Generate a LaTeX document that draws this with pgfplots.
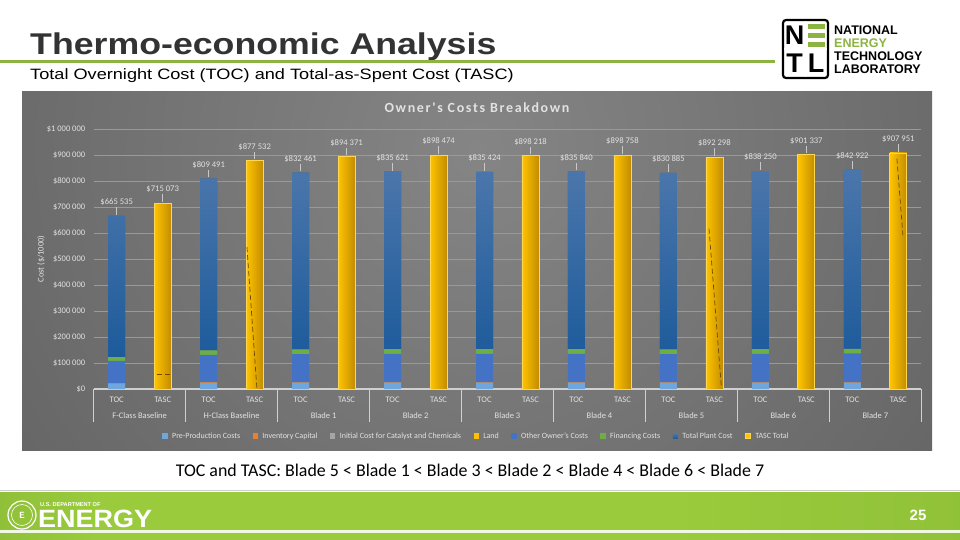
\documentclass[border=0pt]{standalone}
\usepackage{pgfplots}
\pgfplotsset{compat=1.18}
\usepackage{pgfplotstable}
\usepackage{fontspec}
\setmainfont{Carlito}
\newfontfamily\arialfont{Liberation Sans}
\newfontfamily\spacedfont[LetterSpace=12]{Carlito}

% slide and chart colours
\definecolor{bgin}{HTML}{858585}
\definecolor{bgout}{HTML}{535353}
\definecolor{txt}{HTML}{E2E2E2}
\definecolor{gridc}{HTML}{999999}
\definecolor{axc}{HTML}{D0D0D0}
\definecolor{leader}{HTML}{C8C8C8}
\definecolor{preprod}{HTML}{6EA6DE}
\definecolor{invcap}{HTML}{ED7D31}
\definecolor{catal}{HTML}{A5A5A5}
\definecolor{land}{HTML}{FFC000}
\definecolor{otheroc}{HTML}{4472C4}
\definecolor{finance}{HTML}{70AD47}
\definecolor{tpctop}{HTML}{4B76AB}
\definecolor{tpcbot}{HTML}{1D5B9B}
\definecolor{tascL}{HTML}{FFC400}
\definecolor{tascR}{HTML}{C28C00}
\definecolor{tascB}{HTML}{FFD650}
\definecolor{dashc}{HTML}{6B4A00}
\definecolor{netlgreen}{HTML}{8DB443}
\definecolor{titlegray}{HTML}{333333}
\definecolor{footA}{HTML}{5A8A28}
\definecolor{footB}{HTML}{9ACB3C}
\definecolor{footC}{HTML}{80B232}

\pgfdeclarehorizontalshading{footer}{100bp}{
  color(0bp)=(footA); color(30bp)=(footB); color(60bp)=(footB); color(100bp)=(footC)}

% Total Overnight Cost components ($/1000), one row per case (even slots)
\pgfplotstableread{
x  pre   inv  cat land other  fin   tpc    toc    lab
0  20000 1500 0   900  85453  14662 543020 665535 {665 535}
2  24000 1500 0   900  104424 17842 660825 809491 {809 491}
4  24500 1500 0   900  107462 18353 679746 832461 {832 461}
6  24500 1500 0   900  107865 18426 682430 835621 {835 621}
8  24500 1500 0   900  107840 18421 682263 835424 {835 424}
10 24500 1500 0   900  107893 18431 682616 835840 {835 840}
12 24500 1500 0   900  107261 18317 678407 830885 {830 885}
14 24500 1500 0   900  108200 18486 684664 838250 {838 250}
16 24500 1500 0   900  108795 18593 688634 842922 {842 922}
}\toctable

% Total-as-Spent Cost ($/1000), odd slots
\pgfplotstableread{
x  tasc   lab
1  715073 {715 073}
3  877532 {877 532}
5  894371 {894 371}
7  898474 {898 474}
9  898218 {898 218}
11 898758 {898 758}
13 892298 {892 298}
15 901337 {901 337}
17 907951 {907 951}
}\tasctable

\pgfplotsset{
  chartframe/.style={
    at={(93.7pt,-389pt)}, anchor=south west,
    scale only axis, width=827.6pt, height=260pt,
    xmin=-0.5, xmax=17.5, ymin=0, ymax=1000000,
    clip=false,
  },
  datalabels/.style={
    point meta=explicit symbolic,
    nodes near coords={\$\pgfplotspointmeta\\{\color{leader}\rule{0.5pt}{7.5pt}}},
    every node near coord/.append style={font=\fontsize{8.6}{10}\selectfont,
      text=txt, align=center, anchor=south, inner sep=0pt, yshift=1pt},
  },
  sq legend/.style={legend image code/.code={
    \fill[##1] (0pt,-2.6pt) rectangle (5.2pt,2.6pt);}},
}

\begin{document}
\begin{tikzpicture}
\useasboundingbox (0,0) rectangle (960pt,-540pt);
\fill[white] (0,0) rectangle (960pt,-540pt);

% ---- slide header ----
\node[anchor=base west, inner sep=0, text=titlegray,
  font=\arialfont\bfseries\fontsize{30}{32}\selectfont] at (30pt,-55pt)
  {\scalebox{1.19}[1]{Thermo-economic Analysis}};
\fill[netlgreen] (0pt,-60.5pt) rectangle (775pt,-63.5pt);
\node[anchor=base west, inner sep=0, text=black,
  font=\arialfont\fontsize{15}{17}\selectfont] at (30pt,-80pt)
  {\scalebox{1.21}[1]{Total Overnight Cost (TOC) and Total-as-Spent Cost (TASC)}};

% NETL logo
\draw[black, line width=2.2pt, rounded corners=3pt] (783pt,-20pt) rectangle (828pt,-78pt);
\draw[white, line width=1.5pt] (805.5pt,-21pt) -- (805.5pt,-77pt) (784pt,-49pt) -- (827pt,-49pt);
\node[inner sep=0, font=\arialfont\bfseries\fontsize{27}{27}\selectfont] at (794.5pt,-35.5pt) {N};
\fill[netlgreen] (808pt,-24pt) rectangle (825pt,-29pt);
\fill[netlgreen] (808pt,-33pt) rectangle (825pt,-38pt);
\fill[netlgreen] (808pt,-42pt) rectangle (825pt,-47pt);
\node[inner sep=0, font=\arialfont\bfseries\fontsize{27}{27}\selectfont] at (794.5pt,-63.5pt) {T};
\node[inner sep=0, font=\arialfont\bfseries\fontsize{27}{27}\selectfont] at (816pt,-63.5pt) {L};
\begin{scope}[every node/.style={anchor=base west, inner sep=0,
    font=\arialfont\bfseries\fontsize{12.5}{13}\selectfont}]
  \node at (834pt,-35pt) {NATIONAL};
  \node[text=netlgreen] at (834pt,-48pt) {ENERGY};
  \node at (834pt,-61pt) {TECHNOLOGY};
  \node at (834pt,-74pt) {LABORATORY};
\end{scope}

% ---- chart area ----
\begin{scope}
  \clip (22pt,-92pt) rectangle (932pt,-450pt);
  \shade[inner color=bgin, outer color=bgout] (477pt,-150pt) circle (900pt);
\end{scope}
\node[text=txt, inner sep=0, font=\spacedfont\bfseries\fontsize{14}{16}\selectfont]
  at (477pt,-108pt) {Owner's Costs Breakdown};
\node[text=txt, rotate=90, inner sep=0, font=\fontsize{8.5}{10}\selectfont]
  at (41pt,-259pt) {Cost (\$/1000)};

% stacked Total Overnight Cost bars
\begin{axis}[chartframe,
  ybar stacked, bar width=0.37,
  axis line style={draw=none},
  major tick length=0pt,
  scaled y ticks=false,
  ymajorgrids, grid style={gridc, line width=0.6pt},
  ytick={0,100000,200000,300000,400000,500000,600000,700000,800000,900000,1000000},
  yticklabels={\$0,\$100 000,\$200 000,\$300 000,\$400 000,\$500 000,\$600 000,\$700 000,\$800 000,\$900 000,\$1 000 000},
  xtick={0,1,2,3,4,5,6,7,8,9,10,11,12,13,14,15,16,17},
  xticklabels={TOC,TASC,TOC,TASC,TOC,TASC,TOC,TASC,TOC,TASC,TOC,TASC,TOC,TASC,TOC,TASC,TOC,TASC},
  tick label style={font=\fontsize{8.5}{10}\selectfont, text=txt},
  yticklabel style={anchor=east, xshift=-5pt},
  xticklabel style={anchor=center, yshift=-11pt},
  sq legend,
  legend columns=-1,
  legend style={at={(0.4626,-0.1808)}, anchor=center, draw=none, fill=none,
    font=\fontsize{8}{9}\selectfont, text=txt,
    /tikz/every odd column/.append style={column sep=2.5pt},
    /tikz/every even column/.append style={column sep=10.5pt}},
]
\addplot[fill=preprod, draw=none] table[x=x, y=pre] {\toctable};
\addlegendentry{Pre-Production Costs}
\addplot[fill=invcap, draw=none] table[x=x, y=inv] {\toctable};
\addlegendentry{Inventory Capital}
\addplot[fill=catal, draw=none] table[x=x, y=cat] {\toctable};
\addlegendentry{Initial Cost for Catalyst and Chemicals}
\addplot[fill=land, draw=none] table[x=x, y=land] {\toctable};
\addlegendentry{Land}
\addplot[fill=otheroc, draw=none] table[x=x, y=other] {\toctable};
\addlegendentry{Other Owner's Costs}
\addplot[fill=finance, draw=none] table[x=x, y=fin] {\toctable};
\addlegendentry{Financing Costs}
\addplot[fill=tpcbot, draw=none, top color=tpctop, bottom color=tpcbot]
  table[x=x, y=tpc] {\toctable};
\addlegendentry{Total Plant Cost}
\addlegendimage{fill=tascL, draw=tascB, line width=0.6pt}
\addlegendentry{TASC Total}

% category axis line, group separators and case names
\draw[axc, line width=1.4pt] (axis cs:-0.5,0) -- (axis cs:17.5,0);
\pgfplotsinvokeforeach{0,...,9}{
  \draw[axc, line width=1.4pt] (axis cs:{2*#1-0.5},0) -- ++(0pt,-33pt);
}
\pgfplotsforeachungrouped \i/\name in {0/F-Class Baseline, 1/H-Class Baseline,
    2/Blade 1, 3/Blade 2, 4/Blade 3, 5/Blade 4, 6/Blade 5, 7/Blade 6, 8/Blade 7}{
  \edef\tmp{\noexpand\node[text=txt, font=\noexpand\fontsize{8.5}{10}\noexpand\selectfont]
    at (axis cs:{2*\i+0.5},0) [yshift=-27pt] {\name};}
  \tmp
}
\end{axis}

% Total-as-Spent Cost bars (one plot per bar so each gets its own gradient)
% and the TOC total labels
\begin{axis}[chartframe, hide axis,
  ybar, bar width=0.37, bar shift=0pt,
]
\pgfplotsinvokeforeach{0.8:1.2,2.8:3.2,4.8:5.2,6.8:7.2,8.8:9.2,10.8:11.2,12.8:13.2,14.8:15.2,16.8:17.2}{
  \addplot[bar shift=0pt, left color=tascL, right color=tascR, draw=tascB, line width=0.8pt,
    datalabels, restrict x to domain=#1]
    table[x=x, y=tasc, meta=lab] {\tasctable};
}
\addplot[bar shift=0pt, draw=none, fill=none, datalabels]
  table[x=x, y=toc, meta=lab] {\toctable};
\draw[dashc, line width=0.7pt, dash pattern=on 5pt off 3pt] (axis cs:0.876,57700) -- (axis cs:1.159,57700);
\draw[dashc, line width=0.7pt, dash pattern=on 5pt off 3pt] (axis cs:2.833,546000) -- (axis cs:3.05,0);
\draw[dashc, line width=0.7pt, dash pattern=on 5pt off 3pt] (axis cs:12.883,616500) -- (axis cs:13.152,6500);
\draw[dashc, line width=0.7pt, dash pattern=on 5pt off 3pt] (axis cs:16.97,885700) -- (axis cs:17.1,591000);
\end{axis}

% ---- bottom text and footer ----
\node[anchor=base, inner sep=0, text=black, font=\fontsize{17.9}{20}\selectfont]
  at (470pt,-476pt) {TOC and TASC: Blade 5 < Blade 1 < Blade 3 < Blade 2 < Blade 4 < Blade 6 < Blade 7};
\fill[gray!40] (0pt,-490pt) rectangle (960pt,-491pt);
\shade[shading=footer] (0pt,-492pt) rectangle (960pt,-530pt);
\fill[white!85!footB] (0pt,-530pt) rectangle (960pt,-533pt);
\shade[shading=footer] (0pt,-533pt) rectangle (960pt,-540pt);
\draw[white, line width=1.2pt] (22pt,-515pt) circle (14pt);
\draw[white, line width=0.6pt] (22pt,-515pt) circle (10.5pt);
\node[white, inner sep=0, font=\arialfont\bfseries\fontsize{9}{9}\selectfont] at (22pt,-515pt) {\textsf{E}};
\node[anchor=base west, inner sep=0, text=white, font=\arialfont\bfseries\fontsize{5.6}{6}\selectfont]
  at (40pt,-506pt) {U.S. DEPARTMENT OF};
\node[anchor=base west, inner sep=0, text=white, font=\arialfont\bfseries\fontsize{25}{26}\selectfont]
  at (38pt,-527pt) {\scalebox{1.08}[1]{ENERGY}};
\node[anchor=base, inner sep=0, text=white, font=\arialfont\bfseries\fontsize{15}{16}\selectfont]
  at (918pt,-520pt) {25};
\end{tikzpicture}
\end{document}
